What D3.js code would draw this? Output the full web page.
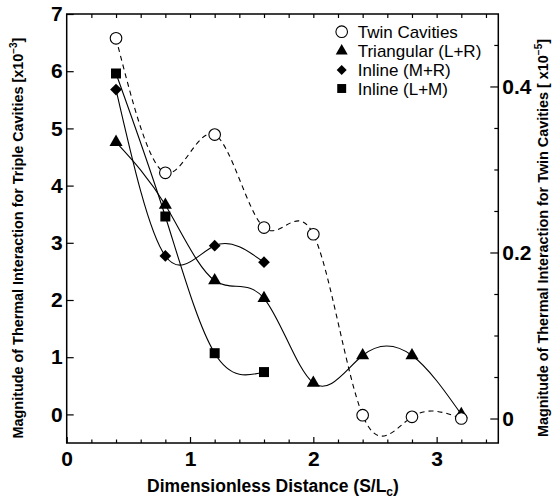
<!DOCTYPE html>
<html>
<head>
<meta charset="utf-8">
<script src="https://cdn.jsdelivr.net/npm/d3@7"></script>
<style>
	body { margin: 0; background: #fff; }
	svg { display: block; font-family: "Liberation Sans", Arial, Helvetica, sans-serif; }
	.tick-lbl text { font-size: 21px; font-weight: bold; fill: #000; }
	.axis path { display: none; }
	.axis line { stroke: #000; stroke-width: 1.2; }
	.title { font-weight: bold; fill: #000; }
	.legend text { font-size: 17px; fill: #000; }
</style>
</head>
<body>
<svg width="552" height="500"></svg>
<script>
// distances S/Lc
const afstand = [0.4, 0.8, 1.2, 1.6, 2.0, 2.4, 2.8, 3.2];

// twin cavities, right axis [x10^-5]
const twin = [0.458, 0.296, 0.342, 0.230, 0.222, 0.004, 0.002, 0.000];
// triple cavities, left axis [x10^-3]
const triangular = [4.76, 3.66, 2.34, 2.03, 0.55, 1.03, 1.03, 0.0];
const inlineMR = [5.68, 2.77, 2.95, 2.66];
const inlineLM = [5.96, 3.46, 1.07, 0.74];

const xMajor = [0, 1, 2, 3];
const xMinor = [0.2, 0.4, 0.6, 0.8, 1.2, 1.4, 1.6, 1.8, 2.2, 2.4, 2.6, 2.8, 3.2, 3.4];
const xTop = [0.2, 0.4, 0.6, 0.8, 1.0, 1.2, 1.4, 1.6, 1.8, 2.0, 2.2, 2.4, 2.6, 2.8, 3.0, 3.2, 3.4];
const yLeftTicks = [0, 1, 2, 3, 4, 5, 6, 7];
const yRightMajor = [0, 0.2, 0.4];
const yRightMinor = [0.05, 0.1, 0.15, 0.25, 0.3, 0.35, 0.45];

const legendNamen = ["Twin Cavities", "Triangular (L+R)", "Inline (M+R)", "Inline (L+M)"];

const svg = d3.select("svg");
const margin = {top: 14, right: 53.7, bottom: 57, left: 66.7};
const width = 552 - margin.left - margin.right;
const height = 500 - margin.top - margin.bottom;

const x = d3.scaleLinear().domain([0, 3.5]).range([0, width]);
const yL = d3.scaleLinear().domain([-0.5, 7]).range([height, 0]);
const yR = d3.scaleLinear().domain([-0.0295, 0.4873]).range([height, 0]);

const g = svg.append("g")
	.attr("transform", `translate(${margin.left},${margin.top})`);

// axes with inward ticks
g.append("g").attr("class", "axis tick-lbl")
	.attr("transform", `translate(0,${height})`)
	.call(d3.axisBottom(x).tickValues(xMajor).tickSizeInner(-6).tickSizeOuter(0).tickPadding(8).tickFormat(d3.format("d")));
g.append("g").attr("class", "axis")
	.attr("transform", `translate(0,${height})`)
	.call(d3.axisBottom(x).tickValues(xMinor).tickSizeInner(-3.5).tickSizeOuter(0).tickFormat(""));
g.append("g").attr("class", "axis")
	.call(d3.axisTop(x).tickValues(xTop).tickSizeInner(-4).tickSizeOuter(0).tickFormat(""));
g.append("g").attr("class", "axis tick-lbl")
	.call(d3.axisLeft(yL).tickValues(yLeftTicks).tickSizeInner(-7).tickSizeOuter(0).tickPadding(4).tickFormat(d3.format("d")));
g.append("g").attr("class", "axis tick-lbl")
	.attr("transform", `translate(${width},0)`)
	.call(d3.axisRight(yR).tickValues(yRightMajor).tickSizeInner(-8).tickSizeOuter(0).tickPadding(4).tickFormat(d => d === 0 ? "0" : d3.format(".1f")(d)));
g.append("g").attr("class", "axis")
	.attr("transform", `translate(${width},0)`)
	.call(d3.axisRight(yR).tickValues(yRightMinor).tickSizeInner(-4).tickSizeOuter(0).tickFormat(""));

g.selectAll(".tick-lbl text").attr("fill", "#000");

g.append("rect")
	.attr("width", width)
	.attr("height", height)
	.attr("fill", "none")
	.attr("stroke", "#000")
	.attr("stroke-width", 1.5);

// curves
const lijnL = d3.line().curve(d3.curveNatural).x((d, i) => x(afstand[i])).y(d => yL(d));
const lijnR = d3.line().curve(d3.curveNatural).x((d, i) => x(afstand[i])).y(d => yR(d));

const plot = g.append("g");
plot.append("path").datum(twin).attr("d", lijnR)
	.attr("fill", "none").attr("stroke", "#000").attr("stroke-width", 1.1).attr("stroke-dasharray", "5,4");
[triangular, inlineMR, inlineLM].forEach(reeks => {
	plot.append("path").datum(reeks).attr("d", lijnL)
		.attr("fill", "none").attr("stroke", "#000").attr("stroke-width", 1.1);
});

const driehoek = d3.symbol().type(d3.symbolTriangle).size(74);
const ruit = d3.symbol().type(d3.symbolDiamond2).size(88);
const vierkant = d3.symbol().type(d3.symbolSquare).size(100);

function tekenMarkers(reeks, schaal, vorm) {
	plot.selectAll(null).data(reeks).enter().append("path")
		.attr("transform", (d, i) => `translate(${x(afstand[i])},${schaal(d)})`)
		.attr("d", vorm)
		.attr("fill", "#000");
}
tekenMarkers(triangular, yL, driehoek);
tekenMarkers(inlineMR, yL, ruit);
tekenMarkers(inlineLM, yL, vierkant);

plot.selectAll(null).data(twin).enter().append("circle")
	.attr("cx", (d, i) => x(afstand[i]))
	.attr("cy", d => yR(d))
	.attr("r", 5.8)
	.attr("fill", "#fff")
	.attr("stroke", "#000")
	.attr("stroke-width", 1.1);

// legend
const legend = svg.append("g").attr("class", "legend");
const legendY = [31.7, 51, 70, 88.5];
const legendVorm = [null, driehoek.size(62), d3.symbol().type(d3.symbolDiamond2).size(64), d3.symbol().type(d3.symbolSquare).size(80)];
legendNamen.forEach((naam, i) => {
	const rij = legend.append("g").attr("transform", `translate(341.7,${legendY[i]})`);
	if (i === 0)
		rij.append("circle").attr("r", 5.8).attr("fill", "#fff").attr("stroke", "#000").attr("stroke-width", 1.1);
	else
		rij.append("path").attr("d", legendVorm[i]).attr("fill", "#000");
	rij.append("text").attr("x", 16).attr("y", 6).text(naam);
});

// axis titles
const xt = svg.append("text").attr("class", "title")
	.attr("text-anchor", "middle")
	.attr("x", 273)
	.attr("y", 492)
	.attr("font-size", 17.5);
xt.append("tspan").text("Dimensionless Distance (S/L");
xt.append("tspan").attr("font-size", 12).attr("dy", 4).text("c");
xt.append("tspan").attr("dy", -4).text(")");

const ytL = svg.append("text").attr("class", "title")
	.attr("text-anchor", "middle")
	.attr("transform", `translate(23,238) rotate(-90)`)
	.attr("font-size", 14.4);
ytL.append("tspan").text("Magnitude of Thermal Interaction for Triple Cavities [x10");
ytL.append("tspan").attr("font-size", 10).attr("dy", -6).text("\u22123");
ytL.append("tspan").attr("dy", 6).text("]");

const ytR = svg.append("text").attr("class", "title")
	.attr("text-anchor", "middle")
	.attr("transform", `translate(548,238) rotate(-90)`)
	.attr("font-size", 14.4);
ytR.append("tspan").text("Magnitude of Thermal Interaction for Twin Cavities [ x10");
ytR.append("tspan").attr("font-size", 10).attr("dy", -6).text("\u22125");
ytR.append("tspan").attr("dy", 6).text("]");
</script>
</body>
</html>
